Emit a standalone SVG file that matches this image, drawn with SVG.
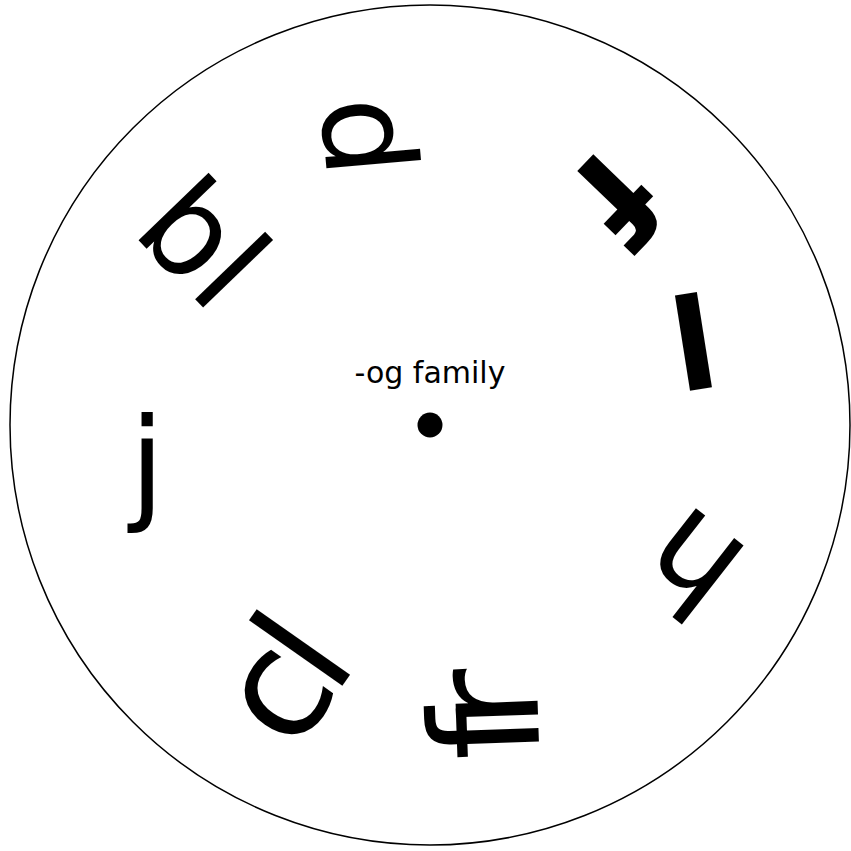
<svg xmlns="http://www.w3.org/2000/svg" width="851" height="851" viewBox="0 0 851 851">
<style>
.w{font-family:"DejaVu Sans","Liberation Sans",sans-serif;fill:#000;text-anchor:middle}
.b{font-weight:bold}
</style>
<rect width="851" height="851" fill="#fff"/>
<g id="wheel">
<circle cx="430" cy="425" r="420" fill="#fff" stroke="#000" stroke-width="1.5"/>
<circle cx="430" cy="425" r="12.5" fill="#000"/>
</g>
<g id="title"><text class="w" x="430" y="383" font-size="30">-og family</text></g>
<g id="connectors"/>
<g id="dog" transform="translate(324,140) rotate(85)"><text class="w" font-size="125">d</text></g>
<g id="blog" transform="translate(171,274) rotate(46)"><text class="w" font-size="128">bl</text></g>
<g id="jog" transform="translate(147,507)"><text class="w" font-size="125">j</text></g>
<g id="clog" transform="translate(326,709) rotate(-55)"><text class="w" font-size="150">c<tspan dx="-12">l</tspan></text></g>
<g id="frog" transform="translate(538,712) rotate(-92)"><text class="w" font-size="150">f<tspan dx="-23">r</tspan></text></g>
<g id="hog" transform="translate(720,527) rotate(-142)"><text class="w" font-size="132">h</text></g>
<g id="log" transform="translate(701,389) rotate(-9)"><text class="w b" font-size="127">l</text></g>
<g id="fog" transform="translate(583,165) rotate(134)"><text class="w b" font-size="132">f</text></g>
</svg>
